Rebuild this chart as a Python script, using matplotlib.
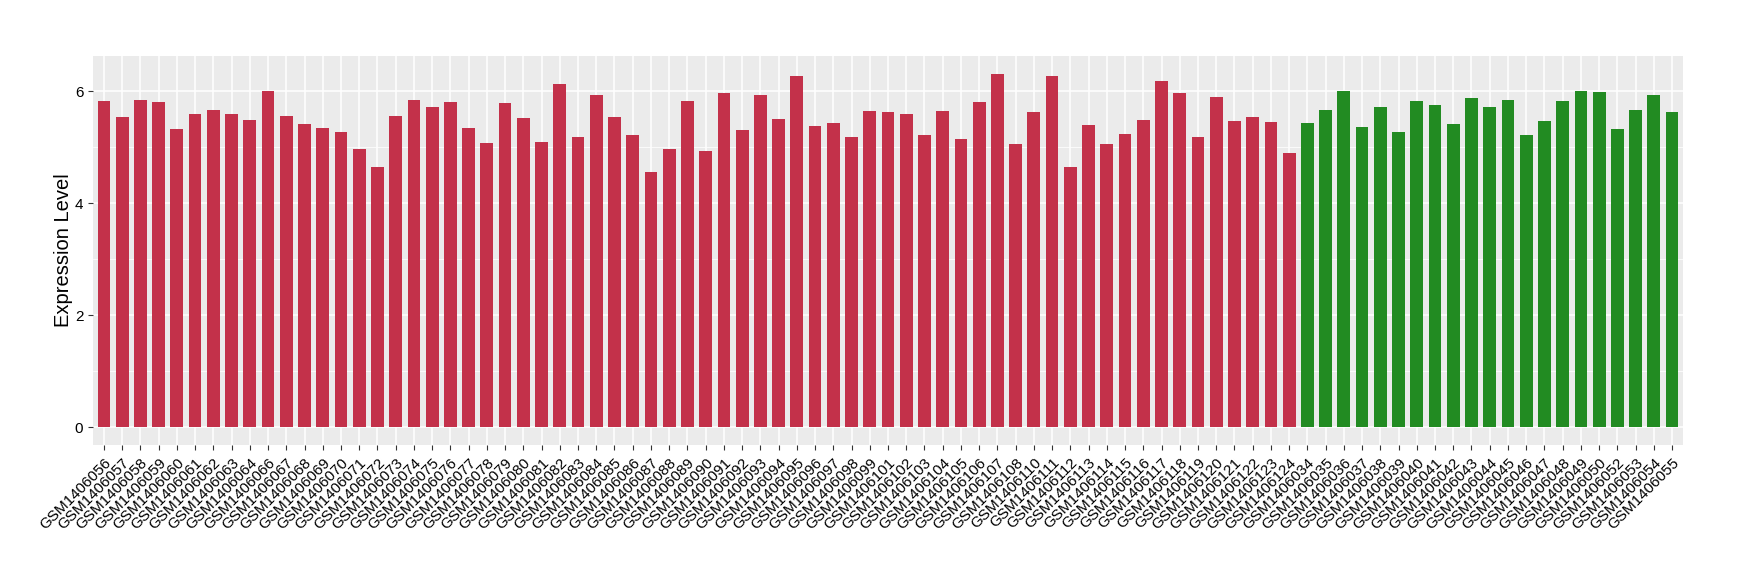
import numpy as np
import matplotlib
matplotlib.use("Agg")
import matplotlib.pyplot as plt
from matplotlib.ticker import MultipleLocator

plt.rcParams["font.family"] = ["Liberation Sans", "DejaVu Sans"]

# Sample IDs (suffixes after GSM1406) and expression values
red_ids = ["056", "057", "058", "059", "060", "061", "062", "063", "064",
           "066", "067", "068", "069", "070", "071", "072", "073", "074",
           "075", "076", "077", "078", "079", "080", "081", "082", "083",
           "084", "085", "086", "087", "088", "089", "090", "091", "092",
           "093", "094", "095", "096", "097", "098", "099", "101", "102",
           "103", "104", "105", "106", "107", "108", "110", "111", "112",
           "113", "114", "115", "116", "117", "118", "119", "120", "121",
           "122", "123", "124"]
red_values = [5.83, 5.54, 5.85, 5.81, 5.33, 5.60, 5.67, 5.60, 5.49,
              6.01, 5.56, 5.42, 5.35, 5.28, 4.97, 4.65, 5.56, 5.85,
              5.72, 5.81, 5.35, 5.08, 5.79, 5.53, 5.10, 6.13, 5.19,
              5.93, 5.54, 5.21, 4.55, 4.97, 5.83, 4.94, 5.97, 5.30,
              5.93, 5.51, 6.27, 5.38, 5.44, 5.19, 5.65, 5.63, 5.60,
              5.21, 5.65, 5.15, 5.81, 6.31, 5.06, 5.63, 6.27, 4.64,
              5.40, 5.06, 5.24, 5.49, 6.18, 5.97, 5.19, 5.90, 5.47,
              5.54, 5.45, 4.90]

green_ids = ["034", "035", "036", "037", "038", "039", "040", "041", "042",
             "043", "044", "045", "046", "047", "048", "049", "050", "052",
             "053", "054", "055"]
green_values = [5.44, 5.67, 6.01, 5.37, 5.72, 5.28, 5.83, 5.76, 5.42,
                5.88, 5.72, 5.85, 5.22, 5.47, 5.83, 6.01, 5.99, 5.33,
                5.67, 5.93, 5.63]

RED = "#C3314A"
GREEN = "#228B22"

labels = ["GSM1406" + s for s in red_ids + green_ids]
values = red_values + green_values
colors = [RED] * len(red_ids) + [GREEN] * len(green_ids)
x = np.arange(len(labels))

fig = plt.figure(figsize=(17.4, 5.8), dpi=100)
ax = fig.add_axes([93 / 1740, 135 / 580, 1590 / 1740, 389 / 580])

ax.set_facecolor("#EBEBEB")
ax.bar(x, values, width=0.7, color=colors, zorder=3)

ax.set_xlim(-0.6, len(labels) - 0.4)
ax.set_ylim(-0.32, 6.63)
ax.yaxis.set_major_locator(MultipleLocator(2))
ax.yaxis.set_minor_locator(MultipleLocator(1))

ax.grid(which="major", color="white", linewidth=1.1, zorder=0)
ax.grid(which="minor", axis="y", color="white", linewidth=0.55, zorder=0)
ax.set_axisbelow(True)

ax.set_xticks(x)
ax.set_xticklabels(labels, rotation=45, ha="right", rotation_mode="anchor",
                   fontsize=11, color="black")
ax.tick_params(axis="both", which="major", length=3.5, width=0.8,
               color="#333333", labelsize=11, labelcolor="black")
ax.tick_params(axis="x", pad=4)
ax.tick_params(axis="y", which="minor", length=0)

for s in ax.spines.values():
    s.set_visible(False)

ax.set_ylabel("Expression Level", fontsize=14.5, labelpad=1)

fig.savefig("out.png", dpi=100, facecolor="white")
